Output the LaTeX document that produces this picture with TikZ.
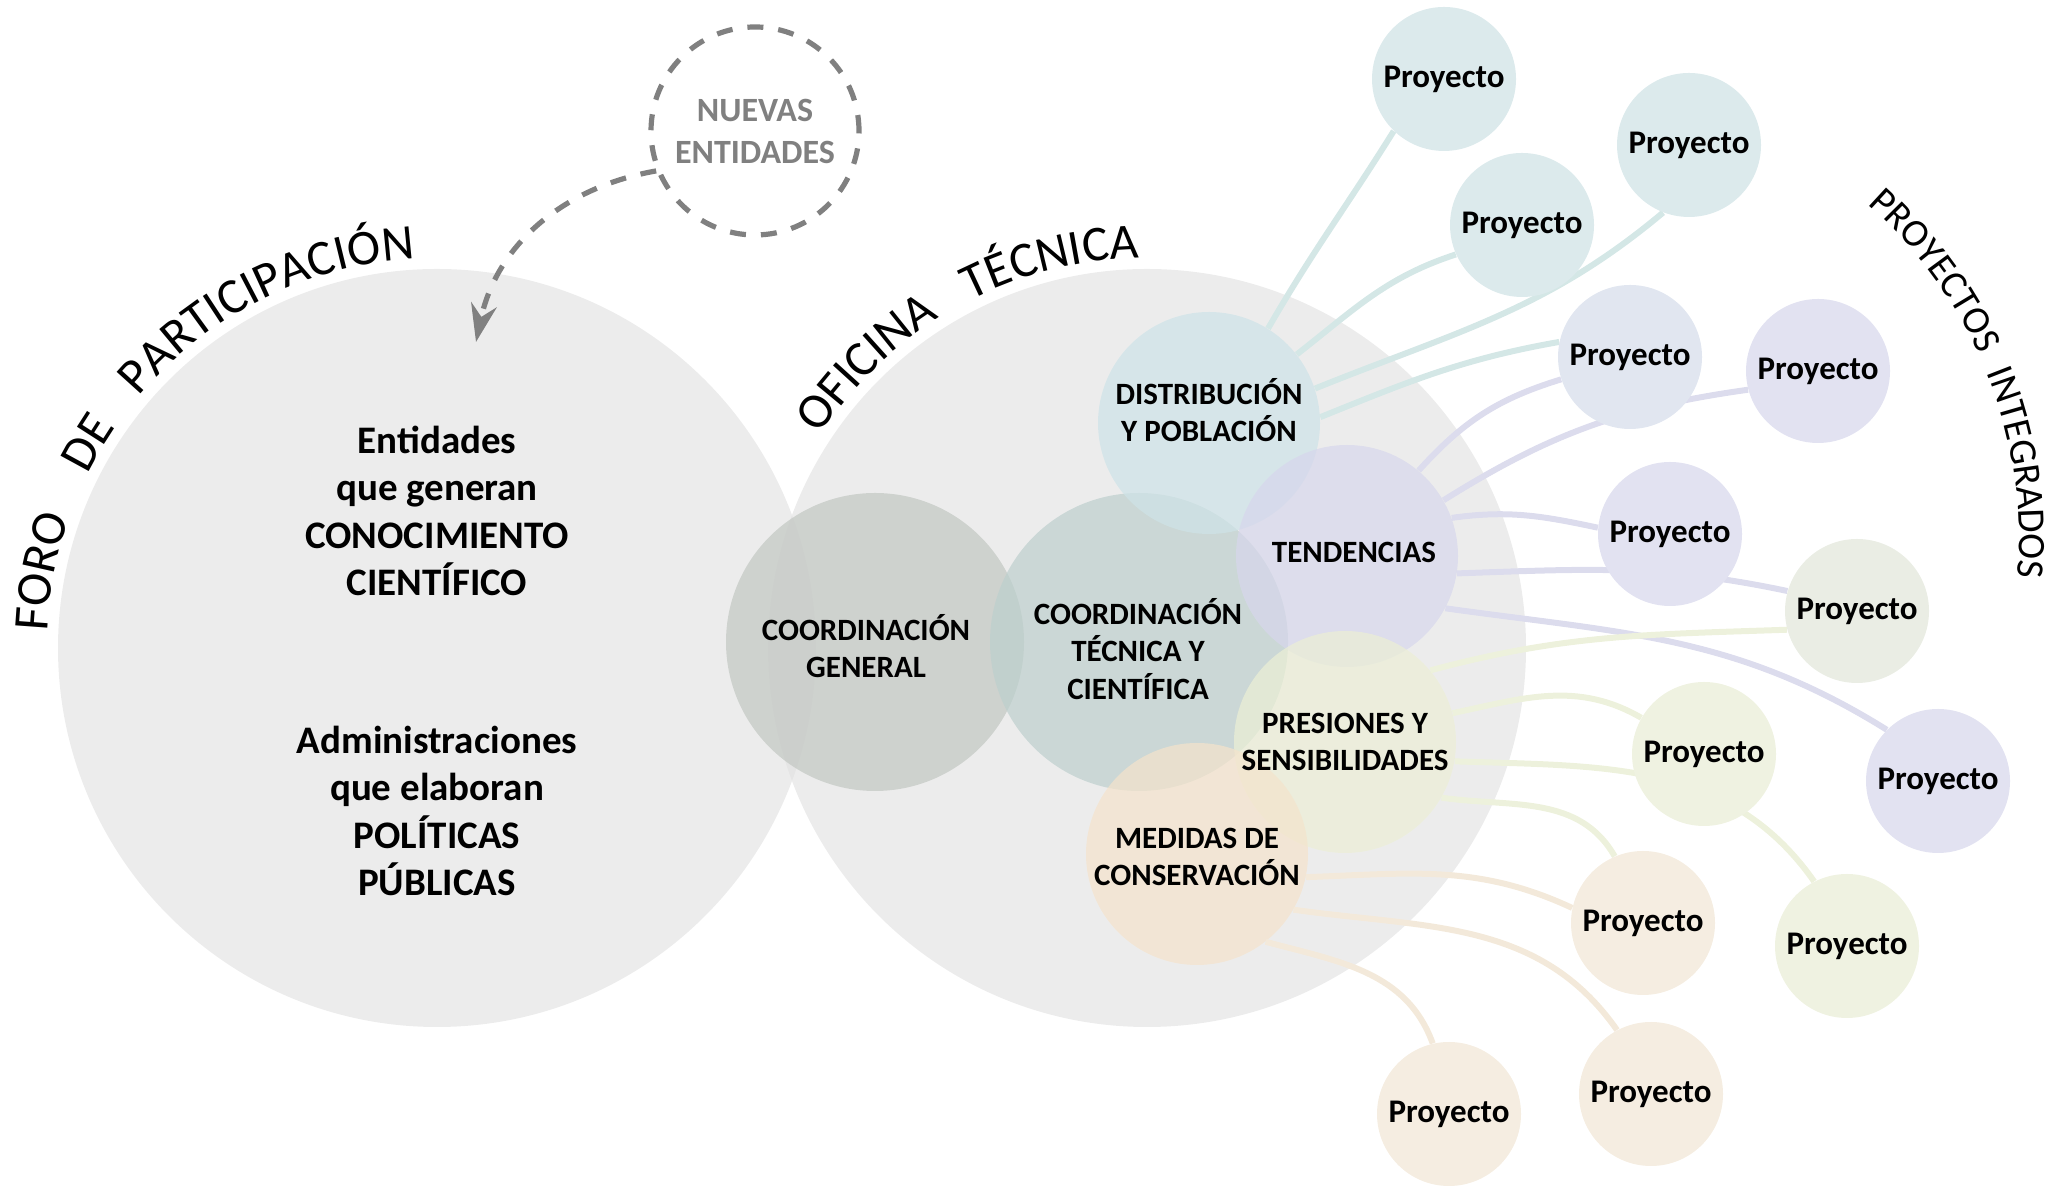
\documentclass[tikz,border=0pt]{standalone}
\usepackage{fontspec}
\setmainfont{Carlito}
\usetikzlibrary{decorations.text,arrows.meta}

\definecolor{genfill}{RGB}{194,199,194}
\definecolor{tecfill}{RGB}{189,207,205}
\definecolor{distfill}{RGB}{206,227,232}
\definecolor{tendfill}{RGB}{215,215,236}
\definecolor{presfill}{RGB}{236,239,213}
\definecolor{medfill}{RGB}{245,227,203}
\definecolor{pblue}{RGB}{220,234,236}
\definecolor{plav}{RGB}{225,230,240}
\definecolor{ppurp}{RGB}{226,226,241}
\definecolor{pmix}{RGB}{234,237,228}
\definecolor{pgreen}{RGB}{239,242,225}
\definecolor{pbeige}{RGB}{245,237,225}
\definecolor{lblue}{RGB}{212,231,230}
\definecolor{lpurp}{RGB}{220,220,237}
\definecolor{lgreen}{RGB}{237,241,220}
\definecolor{lbeige}{RGB}{243,233,218}
\definecolor{dashgray}{RGB}{128,128,128}

\pgfdeclarelayer{back}
\pgfdeclarelayer{links}
\pgfsetlayers{back,links,main}

\newcommand\arcfont{\fontsize{25}{30}\selectfont}
\newcommand\arcfontsmall{\fontsize{19.5}{23}\selectfont}
% word on an arc: centre, radius, middle angle, half span, font, word
\newcommand\arcword[6]{%
  \path[decorate, decoration={text along path, text align=center, text={|#5|#6}}]
    (#1) ++(#3+#4:#2) arc[start angle=#3+#4, end angle=#3-#4, radius=#2];}

\begin{document}
\begin{tikzpicture}[x=0.5pt, y=0.5pt,
    big/.style={circle, fill=black!12, fill opacity=.6, inner sep=0pt, minimum size=379pt},
    coord/.style={circle, fill opacity=.7, inner sep=0pt, minimum size=149pt},
    topic/.style={circle, fill opacity=.7, inner sep=0pt, minimum size=111pt},
    toptext/.style={align=center, inner sep=0pt, font=\bfseries\fontsize{15.5}{18.8}\selectfont},
    forotext/.style={align=center, inner sep=0pt, font=\bfseries\fontsize{19.5}{23.8}\selectfont},
    proj/.style={circle, inner sep=0pt, minimum size=72pt, font=\bfseries\fontsize{16.5}{20}\selectfont},
    link/.style={line width=3pt},
    newent/.style={circle, draw=dashgray, line width=2.6pt, dash pattern=on 8pt off 7.5pt, inner sep=0pt,
      minimum size=104pt, align=center, text=dashgray, font=\bfseries\fontsize{17}{21}\selectfont},
    newarrow/.style={draw=dashgray, line width=2.6pt, dash pattern=on 8pt off 7.5pt, -{Stealth[length=19pt,width=13pt]}}
  ]
  \useasboundingbox (0,0) rectangle (2064,1186);

  \begin{pgfonlayer}{back}
    \node[big] (foro) at (437,538) {};
    \node[big] (oficina) at (1147,538) {};
    \node[coord, fill=genfill] (cgen) at (875,544) {};
    \node[coord, fill=tecfill] (ctec) at (1139,544) {};
    \node[topic, fill=distfill] (dist) at (1209,763) {};
    \node[topic, fill=tendfill] (tend) at (1347,630) {};
    \node[topic, fill=presfill] (pres) at (1345,444) {};
    \node[topic, fill=medfill] (med) at (1197,332) {};
  \end{pgfonlayer}

  \node[forotext] (conoc) at (437,675) {Entidades\\que generan\\CONOCIMIENTO\\CIENTÍFICO};
  \node[forotext] (polit) at (437,375) {Administraciones\\que elaboran\\POLÍTICAS\\PÚBLICAS};

  \node[toptext] (cgentext) at (866,540) {COORDINACIÓN\\GENERAL};
  \node[toptext] (ctectext) at (1138,537) {COORDINACIÓN\\TÉCNICA Y\\CIENTÍFICA};
  \node[toptext] (disttext) at (1209,776) {DISTRIBUCIÓN\\Y POBLACIÓN};
  \node[toptext] (tendtext) at (1354,634) {TENDENCIAS};
  \node[toptext] (prestext) at (1345,444) {PRESIONES Y\\SENSIBILIDADES};
  \node[toptext] (medtext) at (1197,329) {MEDIDAS DE\\CONSERVACIÓN};

  % proyectos
  \node[proj, fill=pblue] (p1) at (1444,1107) {Proyecto};
  \node[proj, fill=pblue] (p2) at (1689,1041) {Proyecto};
  \node[proj, fill=pblue] (p3) at (1522,961) {Proyecto};
  \node[proj, fill=plav] (p4) at (1630,829) {Proyecto};
  \node[proj, fill=ppurp] (p5) at (1818,815) {Proyecto};
  \node[proj, fill=ppurp] (p6) at (1670,652) {Proyecto};
  \node[proj, fill=pmix] (p7) at (1857,575) {Proyecto};
  \node[proj, fill=ppurp] (p8) at (1938,405) {Proyecto};
  \node[proj, fill=pgreen] (p9) at (1704,432) {Proyecto};
  \node[proj, fill=pbeige] (p10) at (1643,263) {Proyecto};
  \node[proj, fill=pgreen] (p11) at (1847,240) {Proyecto};
  \node[proj, fill=pbeige] (p12) at (1449,72) {Proyecto};
  \node[proj, fill=pbeige] (p13) at (1651,92) {Proyecto};

  \begin{pgfonlayer}{links}
    \draw[link, lblue] (dist.58) to[out=60, in=238] (p1.226);
    \draw[link, lblue] (dist.38) to[out=38, in=198] (p3.204);
    \draw[link, lblue] (dist.18) to[out=22, in=220] (p2.249);
    \draw[link, lblue] (dist.3) to[out=22, in=190] (p4.168);
    \draw[link, lpurp] (tend.50) to[out=48, in=197] (p4.198);
    \draw[link, lpurp] (tend.30) to[out=32, in=188] (p5.195);
    \draw[link, lpurp] (tend.20) to[out=8, in=168] (p6.175);
    \draw[link, lpurp] (tend.-9) to[out=2, in=168] (p7.164);
    \draw[link, lpurp] (tend.-28) to[out=-8, in=148] (p8.135);
    \draw[link, lgreen] (pres.40) to[out=15, in=182] (p7.195);
    \draw[link, lgreen] (pres.15) to[out=12, in=150] (p9.150);
    \draw[link, lgreen] (pres.-10) to[out=-2, in=125] (p11.117);
    \draw[link, lgreen] (pres.-30) to[out=-8, in=120] (p10.113);
    \draw[link, lbeige] (med.-12) to[out=2, in=155] (p10.168);
    \draw[link, lbeige] (med.-30) to[out=-8, in=125] (p13.118);
    \draw[link, lbeige] (med.-52) to[out=-15, in=110] (p12.103);
  \end{pgfonlayer}

  % nuevas entidades
  \node[newent] (nuevas) at (755,1055) {NUEVAS\\ENTIDADES};
  \coordinate (arrowtip) at (476,844);
  \draw[newarrow] (nuevas.202) to[out=190, in=78] (arrowtip);

  % titulos curvos
  \coordinate (integ) at (1573,647);
  \arcword{foro}{390}{169}{30}{\arcfont}{FORO}
  \arcword{foro}{390}{149.6}{30}{\arcfont}{DE}
  \arcword{foro}{390}{116.5}{35}{\arcfont}{PARTICIPACIÓN}
  \arcword{oficina}{390}{134.5}{30}{\arcfont}{OFICINA}
  \arcword{oficina}{390}{104}{30}{\arcfont}{TÉCNICA}
  \arcword{integ}{446}{36.5}{25}{\arcfontsmall}{PROYECTOS}
  \arcword{integ}{446}{8.5}{25}{\arcfontsmall}{INTEGRADOS}
\end{tikzpicture}
\end{document}
